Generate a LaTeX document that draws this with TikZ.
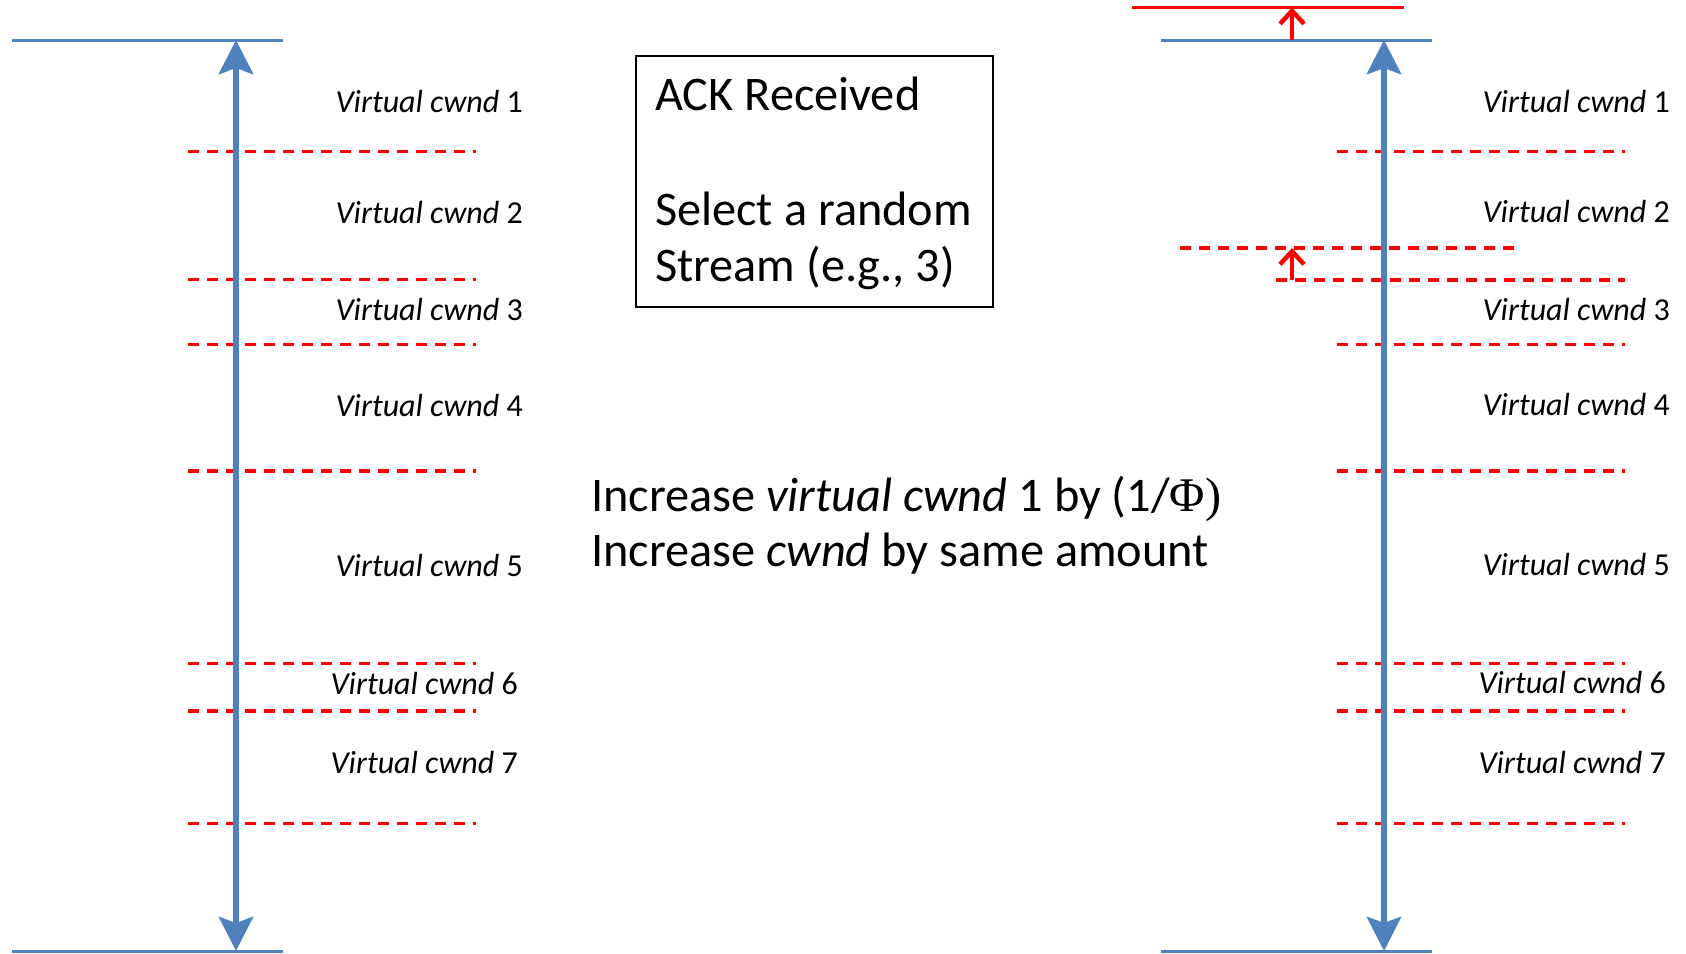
\documentclass[tikz,border=0pt]{standalone}
\usepackage{fontspec}
\setmainfont{Carlito}
\newfontfamily\phifont{Liberation Serif}
\usetikzlibrary{arrows.meta}
\definecolor{axisblue}{HTML}{4F81BD}
\definecolor{markred}{HTML}{FF0000}

\begin{document}
\begin{tikzpicture}[x=1pt,y=-1pt,
  axis/.style={draw=axisblue, line width=6.5pt,
    {Stealth[length=34pt,width=34pt,inset=6pt]}-{Stealth[length=34pt,width=34pt,inset=6pt]}},
  limit/.style={draw=axisblue, line width=3pt},
  bound/.style={draw=markred, line width=3.2pt},
  divider/.style={draw=markred, line width=3.2pt, dash pattern=on 11pt off 8pt},
  bump/.style={draw=markred, line width=4.5pt, -{Straight Barb[length=13pt,width=24pt]}},
  vlabel/.style={anchor=base east, inner sep=0pt, font=\fontsize{32}{38}\selectfont},
  bigtext/.style={anchor=base west, inner sep=0pt, font=\fontsize{48.3}{57}\selectfont},
]
\useasboundingbox (0,0) rectangle (1686,953);

% ---------- left stack: cwnd before the ACK ----------
\coordinate (LtopA) at (12,40);   \coordinate (LtopB) at (283,40);
\coordinate (LbotA) at (12,951);  \coordinate (LbotB) at (283,951);
\coordinate (Ltop) at (236,40);   \coordinate (Lbot) at (236,951);
\draw[limit] (LtopA) -- (LtopB);
\draw[limit] (LbotA) -- (LbotB);
\foreach \y [count=\i] in {151.6,279.6,344.1,471,663.5,711,823.5} {
  \coordinate (Ld\i a) at (188,\y);
  \coordinate (Ld\i b) at (476,\y);
  \draw[divider] (Ld\i a) -- (Ld\i b);
}
\draw[axis] (Lbot) -- (Ltop);
\foreach \n/\y/\x in {1/112/523,2/223/523,3/320/523,4/416/523,5/576/523,6/694/518,7/773/518}
  \node[vlabel] (Lv\n) at (\x,\y) {\textit{Virtual cwnd} \n};

% ---------- right stack: cwnd after the ACK ----------
\coordinate (RtopA) at (1161,40); \coordinate (RtopB) at (1432,40);
\coordinate (RbotA) at (1161,951);\coordinate (RbotB) at (1432,951);
\coordinate (Rtop) at (1384,40);  \coordinate (Rbot) at (1384,951);
\coordinate (RnewA) at (1132,7.5);\coordinate (RnewB) at (1404,7.5);
\draw[limit] (RtopA) -- (RtopB);
\draw[limit] (RbotA) -- (RbotB);
\draw[bound] (RnewA) -- (RnewB);
\foreach \y [count=\i] in {151.6,344.1,471,663.5,711,823.5} {
  \coordinate (Rd\i a) at (1337,\y);
  \coordinate (Rd\i b) at (1625,\y);
  \draw[divider] (Rd\i a) -- (Rd\i b);
}
\coordinate (Rold3a) at (1276,280); \coordinate (Rold3b) at (1625,280);
\coordinate (Rnew3a) at (1180,248); \coordinate (Rnew3b) at (1517,248);
\draw[divider] (Rold3a) -- (Rold3b);
\draw[divider] (Rnew3a) -- (Rnew3b);
\draw[axis] (Rbot) -- (Rtop);
\coordinate (Gtop0) at (1292,40);  \coordinate (Gtop1) at (1292,7.5);
\coordinate (Gmid0) at (1292,280); \coordinate (Gmid1) at (1292,248);
\draw[bump] (Gtop0) -- (Gtop1);
\draw[bump] (Gmid0) -- (Gmid1);
\foreach \n/\y/\x in {1/112/1670,2/222/1670,3/320/1670,4/415/1670,5/575/1670,6/693/1666,7/773/1666}
  \node[vlabel] (Rv\n) at (\x,\y) {\textit{Virtual cwnd} \n};

% ---------- event box and update rule ----------
\node[draw, line width=2pt, minimum width=357pt, minimum height=251pt, inner sep=0pt]
  (ackbox) at (814.5,181.5) {};
\node[bigtext] (ack) at (655,110.7) {ACK Received};
\node[bigtext] (sel) at (655,225.7) {Select a random};
\node[bigtext] (str) at (655,281.7) {Stream (e.g., 3)};

\node[bigtext] (rule1) at (591,511.7) {Increase \textit{virtual cwnd} 1 by (1/{\phifont Φ)}};
\node[bigtext] (rule2) at (591,566.7) {Increase \textit{cwnd} by same amount};
\end{tikzpicture}
\end{document}
